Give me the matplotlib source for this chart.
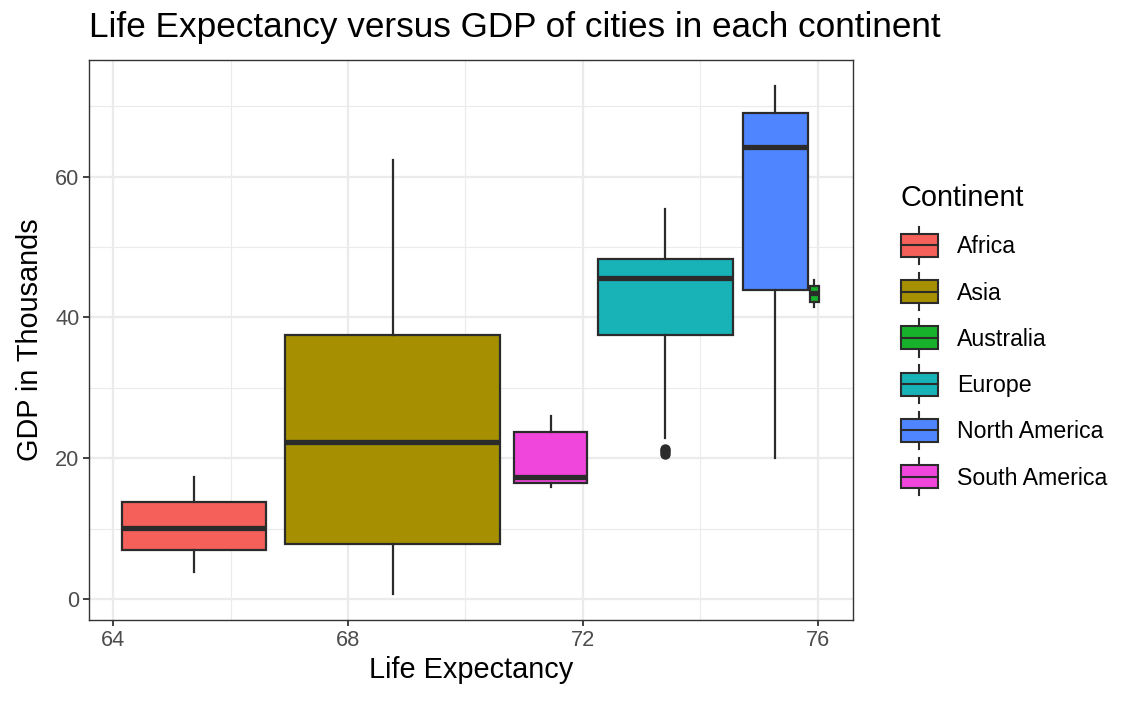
import matplotlib.pyplot as plt
from matplotlib.legend_handler import HandlerBase
from matplotlib.patches import Rectangle
from matplotlib.lines import Line2D

plt.rcParams['font.family'] = ['Liberation Sans', 'DejaVu Sans']

# box summaries (GDP in thousands)
continents = ["Africa", "Asia", "Australia", "Europe", "North America", "South America"]
life_exp = [65.38, 68.76, 75.94, 73.40, 75.28, 71.45]
box_widths = [2.44, 3.65, 0.16, 2.30, 1.10, 1.23]
whisker_lo = [3.88, 0.71, 41.48, 22.85, 20.01, 15.88]
q1 = [6.97, 7.82, 42.27, 37.54, 43.94, 16.45]
median = [10.14, 22.37, 43.47, 45.60, 64.17, 17.30]
q3 = [13.75, 37.44, 44.50, 48.34, 69.06, 23.70]
whisker_hi = [17.39, 62.42, 45.36, 55.41, 72.84, 26.06]
outliers = [[], [], [], [20.6, 21.0, 21.3], [], []]

colors = ["#F5605A", "#A68F00", "#17B12B", "#17B3B7", "#4F86FF", "#F046DB"]
edge = "#2B2B2B"


class BoxKeyHandler(HandlerBase):
    # draws a small boxplot glyph for the legend key
    def create_artists(self, legend, orig, xd, yd, width, height, fontsize, trans):
        x0 = -xd
        y0 = -yd - height * 0.05
        h = height * 1.1
        cx = x0 + width / 2
        whisk = Line2D([cx, cx], [y0 - h * 0.32, y0 + h * 1.32],
                       color=edge, lw=1.5, transform=trans)
        box = Rectangle((x0, y0), width, h, facecolor=orig.get_facecolor(),
                        edgecolor=edge, lw=1.5, transform=trans)
        mid = Line2D([x0, x0 + width], [y0 + h / 2] * 2, color=edge, lw=1.5,
                     transform=trans)
        return [whisk, box, mid]


fig = plt.figure(figsize=(11.42, 7.05), dpi=100)
ax = fig.add_axes([89 / 1142, 1 - 620 / 705, 764 / 1142, 560 / 705])

stats = []
for i in range(len(continents)):
    stats.append({
        "med": median[i], "q1": q1[i], "q3": q3[i],
        "whislo": whisker_lo[i], "whishi": whisker_hi[i],
        "fliers": outliers[i], "label": continents[i],
    })

bp = ax.bxp(stats, positions=life_exp, widths=box_widths, patch_artist=True,
            showcaps=False, manage_ticks=False,
            boxprops=dict(edgecolor=edge, linewidth=1.6),
            medianprops=dict(color=edge, linewidth=3.8, solid_capstyle="butt"),
            whiskerprops=dict(color=edge, linewidth=1.6),
            flierprops=dict(marker="o", markerfacecolor=edge, markeredgecolor=edge,
                            markersize=6.5))
for patch, c in zip(bp["boxes"], colors):
    patch.set_facecolor(c)

ax.set_xlim(63.59, 76.6)
ax.set_ylim(-3.0, 76.6)
ax.set_xticks([64, 68, 72, 76])
ax.set_xticks([66, 70, 74], minor=True)
ax.set_yticks([0, 20, 40, 60])
ax.set_yticks([10, 30, 50, 70], minor=True)
ax.grid(True, which="major", color="#EBEBEB", linewidth=1.6)
ax.grid(True, which="minor", color="#EBEBEB", linewidth=0.8)
ax.set_axisbelow(True)
for s in ax.spines.values():
    s.set_color("#333333")
    s.set_linewidth(1.0)
ax.tick_params(which="major", length=4, width=1.3, color="#333333",
               labelsize=15.7, labelcolor="#4D4D4D", pad=3)
ax.tick_params(which="minor", length=0)

ax.set_xlabel("Life Expectancy", fontsize=20.8, labelpad=4)
ax.set_ylabel("GDP in Thousands", fontsize=20.8, labelpad=8)
fig.text(89 / 1142, 1 - 27 / 705, "Life Expectancy versus GDP of cities in each continent",
         fontsize=25.3, va="center", ha="left")

handles = [Rectangle((0, 0), 1, 1, facecolor=c) for c in colors]
leg = fig.legend(handles, continents, title="Continent",
                 handler_map={Rectangle: BoxKeyHandler()},
                 loc="upper left", bbox_to_anchor=(901 / 1142, 1 - 184 / 705),
                 frameon=False, fontsize=16.7, title_fontsize=20.8,
                 handlelength=1.58, handleheight=1.0, labelspacing=0.99,
                 handletextpad=0.85, borderpad=0, borderaxespad=0,
                 alignment="left")

fig.savefig("out.png", dpi=100)
